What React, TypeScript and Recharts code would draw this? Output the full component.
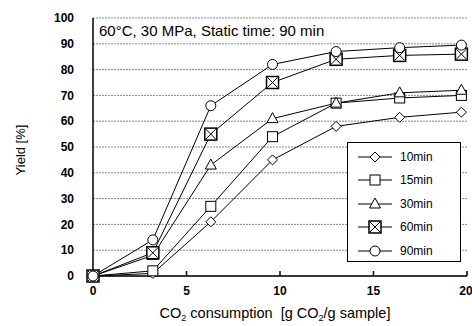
import React from 'react';
import { LineChart, Line, XAxis, YAxis, CartesianGrid } from 'recharts';

// CO2 consumption [g CO2/g sample]
const consumption = [0, 3.2, 6.3, 9.6, 13.0, 16.4, 19.7];
const yield10 = [0, 1, 21, 45, 58, 61.5, 63.5];
const yield15 = [0, 2, 27, 54, 67, 69, 70];
const yield30 = [0, 8, 43, 61, 67, 71, 72];
const yield60 = [0, 9, 55, 75, 84, 85.5, 86];
const yield90 = [0, 14, 66, 82, 87, 88.5, 89.5];
const xTicks = [0, 5, 10, 15, 20];
const yTicks = [0, 10, 20, 30, 40, 50, 60, 70, 80, 90, 100];
const seriesNames = ['10min', '15min', '30min', '60min', '90min'];

const data = consumption.map((x, i) => ({
  x,
  m10: yield10[i],
  m15: yield15[i],
  m30: yield30[i],
  m60: yield60[i],
  m90: yield90[i],
}));

type Kind = 'diamond' | 'square' | 'triangle' | 'xsquare' | 'circle';
const kinds: Kind[] = ['diamond', 'square', 'triangle', 'xsquare', 'circle'];
const keys = ['m10', 'm15', 'm30', 'm60', 'm90'];

function Marker({ kind, cx, cy }: { kind: Kind; cx: number; cy: number }) {
  const s = { fill: '#fff', stroke: '#000', strokeWidth: 1 };
  switch (kind) {
    case 'diamond':
      return <path d={`M${cx},${cy - 5}L${cx + 5},${cy}L${cx},${cy + 5}L${cx - 5},${cy}Z`} {...s} />;
    case 'square':
      return <rect x={cx - 5} y={cy - 5} width={10} height={10} {...s} />;
    case 'triangle':
      return <path d={`M${cx},${cy - 6}L${cx + 5.5},${cy + 4}L${cx - 5.5},${cy + 4}Z`} {...s} />;
    case 'xsquare':
      return (
        <g>
          <rect x={cx - 6} y={cy - 6} width={12} height={12} {...s} strokeWidth={1.5} />
          <path d={`M${cx - 5},${cy - 5}L${cx + 5},${cy + 5}M${cx + 5},${cy - 5}L${cx - 5},${cy + 5}`} stroke="#000" strokeWidth={1} />
        </g>
      );
    default:
      return <circle cx={cx} cy={cy} r={5} {...s} />;
  }
}

const font = '"Liberation Sans", Arial, sans-serif';

export default function App() {
  return (
    <div style={{ position: 'absolute', left: 0, top: 0, width: 472, height: 326, background: '#fff', fontFamily: font }}>
      <LineChart width={472} height={326} data={data} margin={{ top: 18, right: 5, bottom: 0, left: 58 }}>
        <CartesianGrid vertical={false} stroke="#888" strokeDasharray="2 1" />
        <XAxis
          dataKey="x"
          type="number"
          domain={[0, 20]}
          ticks={xTicks}
          height={50}
          tickSize={-5}
          tickMargin={15}
          stroke="#000"
          strokeWidth={1.5}
          tick={{ fill: '#000', fontSize: 12, fontWeight: 'bold', fontFamily: font }}
        />
        <XAxis xAxisId="top" orientation="top" dataKey="x" type="number" domain={[0, 20]} height={0} tick={false} tickLine={false} stroke="#000" strokeWidth={1.5} />
        <YAxis
          type="number"
          domain={[0, 100]}
          ticks={yTicks}
          width={35}
          tickSize={0}
          tickMargin={19}
          stroke="#000"
          strokeWidth={1.5}
          tick={{ fill: '#000', fontSize: 12, fontWeight: 'bold', fontFamily: font }}
        />
        <YAxis yAxisId="right" orientation="right" domain={[0, 100]} width={0} tick={false} tickLine={false} stroke="#000" strokeWidth={1.5} />
        {keys.map((k, i) => (
          <Line
            key={k}
            type="linear"
            dataKey={k}
            stroke="#000"
            strokeWidth={1}
            isAnimationActive={false}
            dot={(p: any) => <Marker key={`${k}-${p.index}`} kind={kinds[i]} cx={p.cx} cy={p.cy} />}
          />
        ))}
      </LineChart>
      <div style={{ position: 'absolute', left: 99, top: 22, fontSize: 15, color: '#000', whiteSpace: 'nowrap' }}>
        60°C, 30 MPa, Static time: 90 min
      </div>
      <div style={{ position: 'absolute', left: 347, top: 142, width: 114, height: 120, border: '1px solid #000', background: '#fff', boxSizing: 'border-box', paddingTop: 2 }}>
        {seriesNames.map((n, i) => (
          <div key={n} style={{ display: 'flex', alignItems: 'center', height: 23.5 }}>
            <svg width={44} height={20} style={{ marginLeft: 6 }}>
              <line x1={4} y1={10} x2={38} y2={10} stroke="#000" strokeWidth={1} />
              <Marker kind={kinds[i]} cx={21} cy={10} />
            </svg>
            <span style={{ fontSize: 12, marginLeft: 2 }}>{n}</span>
          </div>
        ))}
      </div>
      <div style={{ position: 'absolute', left: 20, top: 150, transform: 'translate(-50%, -50%) rotate(-90deg)', fontSize: 13, whiteSpace: 'nowrap' }}>
        Yield [%]
      </div>
      <div style={{ position: 'absolute', left: 275, top: 314, transform: 'translate(-50%, -50%)', fontSize: 14.5, whiteSpace: 'nowrap' }}>
        CO<sub style={{ fontSize: 9 }}>2</sub> consumption&nbsp; [g CO<sub style={{ fontSize: 9 }}>2</sub>/g sample]
      </div>
    </div>
  );
}
